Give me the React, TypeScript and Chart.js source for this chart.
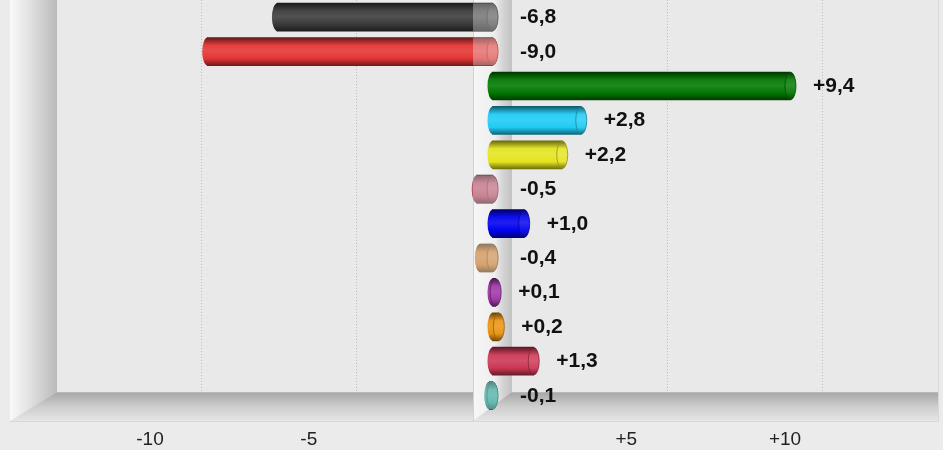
import { useEffect, useRef } from 'react';
import { Chart, registerables } from 'chart.js';

Chart.register(...registerables);

// ---------------- data ----------------
const CATEGORIES = [
  'Partei 1', 'Partei 2', 'Partei 3', 'Partei 4', 'Partei 5', 'Partei 6',
  'Partei 7', 'Partei 8', 'Partei 9', 'Partei 10', 'Partei 11', 'Partei 12',
];
const VALUES = [-6.8, -9.0, 9.4, 2.8, 2.2, -0.5, 1.0, -0.4, 0.1, 0.2, 1.3, -0.1];
const COLORS = [
  '#3a3a3a', '#e33434', '#007800', '#1ecbf4', '#e4e41e', '#b5475f',
  '#0000ee', '#c97825', '#9a2ea4', '#e8900c', '#cc3654', '#0c968a',
];
const TICK_VALUES = [-10, -5, 5, 10];
const TICK_LABELS = ['-10', '-5', '+5', '+10'];

// ---------------- layout / style ----------------
const W = 943;
const H = 450;
const X0 = 492.5; // pixel of zero on the bar plane
const UNIT = 31.7; // px per unit on the bar plane
const XMIN = -15;
const XMAX = 14;
const PLOT_BOTTOM = 412.8;
const BAR_THICK = 28;
const CAP_RX = 5.5;

const BACK_X0 = 511.5;
const BACK_K = 31.05 / 31.7;
const FRONT_X0 = 467.5;
const FRONT_K = 31.75 / 31.7;

const LEFT_FRONT = 10;
const LEFT_BACK = 57;
const FLOOR_BACK = 392;
const FLOOR_FRONT = 421;
const RIGHT_EDGE = 938;
const WALL0_FRONT = 473;
const WALL0_BACK = 512;

function hexToRgb(h: string): number[] {
  const s = h.replace('#', '');
  return [0, 2, 4].map((i) => parseInt(s.substr(i, 2), 16));
}
function mix(a: string, b: string, t: number): string {
  const A = hexToRgb(a);
  const B = hexToRgb(b);
  const c = A.map((v, i) => Math.round(v + (B[i] - v) * t));
  return `rgb(${c[0]},${c[1]},${c[2]})`;
}
function bodyGradient(ctx: CanvasRenderingContext2D, top: number, bottom: number, base: string) {
  const g = ctx.createLinearGradient(0, top, 0, bottom);
  g.addColorStop(0, mix(base, '#000000', 0.55));
  g.addColorStop(0.28, mix(base, '#ffffff', 0.06));
  g.addColorStop(0.48, mix(base, '#ffffff', 0.12));
  g.addColorStop(0.75, base);
  g.addColorStop(1, mix(base, '#000000', 0.5));
  return g;
}
function fmt(v: number): string {
  return (v > 0 ? '+' : '') + v.toFixed(1).replace('.', ',');
}

const scenePlugin = {
  id: 'scene3d',
  beforeDraw(chart: any) {
    const ctx: CanvasRenderingContext2D = chart.ctx;
    const xs = chart.scales.x;
    ctx.save();
    // background
    ctx.fillStyle = '#ebebeb';
    ctx.fillRect(0, 0, W, H);
    // back wall
    ctx.fillStyle = '#e9e9e9';
    ctx.fillRect(LEFT_BACK, 0, RIGHT_EDGE - LEFT_BACK, FLOOR_BACK);
    // left wall
    let g = ctx.createLinearGradient(LEFT_FRONT, 0, LEFT_BACK, 0);
    g.addColorStop(0, '#f9f9f9');
    g.addColorStop(0.35, '#e6e6e6');
    g.addColorStop(1, '#bababa');
    ctx.fillStyle = g;
    ctx.beginPath();
    ctx.moveTo(LEFT_FRONT, 0);
    ctx.lineTo(LEFT_BACK, 0);
    ctx.lineTo(LEFT_BACK, FLOOR_BACK);
    ctx.lineTo(LEFT_FRONT, FLOOR_FRONT);
    ctx.closePath();
    ctx.fill();
    // floor
    g = ctx.createLinearGradient(0, FLOOR_BACK, 0, FLOOR_FRONT);
    g.addColorStop(0, '#a6a6a6');
    g.addColorStop(0.5, '#cdcdcd');
    g.addColorStop(1, '#e6e6e6');
    ctx.fillStyle = g;
    ctx.beginPath();
    ctx.moveTo(LEFT_FRONT, FLOOR_FRONT);
    ctx.lineTo(LEFT_BACK, FLOOR_BACK);
    ctx.lineTo(RIGHT_EDGE, FLOOR_BACK);
    ctx.lineTo(RIGHT_EDGE, FLOOR_FRONT);
    ctx.closePath();
    ctx.fill();
    // edges
    ctx.strokeStyle = '#d8d8d8';
    ctx.lineWidth = 1;
    ctx.beginPath();
    ctx.moveTo(LEFT_FRONT, FLOOR_FRONT + 0.5);
    ctx.lineTo(RIGHT_EDGE + 1, FLOOR_FRONT + 0.5);
    ctx.moveTo(RIGHT_EDGE + 0.5, 0);
    ctx.lineTo(RIGHT_EDGE + 0.5, FLOOR_FRONT);
    ctx.stroke();
    ctx.strokeStyle = '#b8b8b8';
    ctx.beginPath();
    ctx.moveTo(LEFT_BACK, FLOOR_BACK + 0.5);
    ctx.lineTo(RIGHT_EDGE, FLOOR_BACK + 0.5);
    ctx.stroke();
    // grid lines on back wall
    ctx.strokeStyle = '#bdbdbd';
    ctx.setLineDash([1, 2]);
    TICK_VALUES.forEach((v) => {
      const x = Math.round(BACK_X0 + (xs.getPixelForValue(v) - X0) * BACK_K) + 0.5;
      ctx.beginPath();
      ctx.moveTo(x, 0);
      ctx.lineTo(x, FLOOR_BACK);
      ctx.stroke();
    });
    ctx.setLineDash([]);
    // zero wall
    g = ctx.createLinearGradient(WALL0_FRONT, 0, WALL0_BACK, 0);
    g.addColorStop(0, '#f7f7f7');
    g.addColorStop(0.55, '#eeeeee');
    g.addColorStop(0.75, '#d6d6d6');
    g.addColorStop(1, '#c2c2c2');
    ctx.fillStyle = g;
    ctx.beginPath();
    ctx.moveTo(WALL0_FRONT, 0);
    ctx.lineTo(WALL0_BACK, 0);
    ctx.lineTo(WALL0_BACK, FLOOR_BACK);
    ctx.lineTo(WALL0_FRONT, FLOOR_FRONT);
    ctx.closePath();
    ctx.fill();
    ctx.strokeStyle = '#d2d2d2';
    ctx.beginPath();
    ctx.moveTo(WALL0_FRONT + 0.5, 0);
    ctx.lineTo(WALL0_FRONT + 0.5, FLOOR_FRONT);
    ctx.stroke();
    // tick labels at front
    ctx.fillStyle = '#222222';
    ctx.font = '19px "Liberation Sans", Arial, sans-serif';
    ctx.textAlign = 'center';
    ctx.textBaseline = 'alphabetic';
    TICK_VALUES.forEach((v, i) => {
      const x = FRONT_X0 + (xs.getPixelForValue(v) - X0) * FRONT_K;
      ctx.fillText(TICK_LABELS[i], x, 445);
    });
    ctx.restore();
  },
  afterDatasetsDraw(chart: any) {
    const ctx: CanvasRenderingContext2D = chart.ctx;
    const meta = chart.getDatasetMeta(0);
    ctx.save();
    meta.data.forEach((el: any, i: number) => {
      const p = el.getProps(['x', 'y', 'base', 'height'], true);
      const xL = Math.min(p.x, p.base);
      const xR = Math.max(p.x, p.base);
      const hh = p.height / 2;
      const top = p.y - hh;
      const bottom = p.y + hh;
      const base = COLORS[i];
      // left rounded end
      ctx.fillStyle = bodyGradient(ctx, top, bottom, base);
      ctx.beginPath();
      ctx.ellipse(xL + 0.5, p.y, CAP_RX, hh, 0, Math.PI / 2, (3 * Math.PI) / 2);
      ctx.closePath();
      ctx.fill();
      // right cap face
      ctx.fillStyle = bodyGradient(ctx, top, bottom, mix(base, '#ffffff', 0.06).replace(/rgb\((\d+),(\d+),(\d+)\)/, (_m, r, g2, b) =>
        '#' + [r, g2, b].map((n: string) => (+n).toString(16).padStart(2, '0')).join('')));
      ctx.beginPath();
      ctx.ellipse(xR, p.y, CAP_RX, hh, 0, 0, Math.PI * 2);
      ctx.fill();
      ctx.strokeStyle = mix(base, '#000000', 0.35);
      ctx.lineWidth = 0.8;
      ctx.beginPath();
      ctx.ellipse(xR, p.y, CAP_RX, hh - 0.5, 0, 0, Math.PI * 2);
      ctx.stroke();
      // translucent zero wall over the negative bars
      if (VALUES[i] < 0) {
        ctx.save();
        ctx.beginPath();
        ctx.rect(xL, top, xR - xL, p.height);
        ctx.ellipse(xL + 0.5, p.y, CAP_RX, hh, 0, 0, Math.PI * 2);
        ctx.moveTo(xR + CAP_RX, p.y);
        ctx.ellipse(xR, p.y, CAP_RX, hh, 0, 0, Math.PI * 2);
        ctx.clip('nonzero');
        ctx.fillStyle = 'rgba(236,236,236,0.36)';
        ctx.fillRect(WALL0_FRONT, top - 1, xR + CAP_RX + 2 - WALL0_FRONT, p.height + 2);
        ctx.restore();
      }
      // value label
      ctx.fillStyle = '#111111';
      ctx.font = 'bold 21px "Liberation Sans", Arial, sans-serif';
      ctx.textAlign = 'left';
      ctx.textBaseline = 'alphabetic';
      const lx = VALUES[i] < 0 ? WALL0_BACK + 8 : xR + CAP_RX + 17;
      ctx.fillText(fmt(VALUES[i]), lx, p.y + 6);
    });
    ctx.restore();
  },
};

export default function App() {
  const ref = useRef<HTMLCanvasElement | null>(null);
  useEffect(() => {
    if (!ref.current) return;
    const chart = new Chart(ref.current, {
      type: 'bar',
      data: {
        labels: CATEGORIES,
        datasets: [
          {
            data: VALUES,
            barThickness: BAR_THICK,
            borderWidth: 0,
            backgroundColor: (c: any) => {
              const ch = c.chart;
              const ys = ch.scales && ch.scales.y;
              const i = c.dataIndex ?? 0;
              if (!ys || !ch.chartArea) return COLORS[i];
              const y = ys.getPixelForValue(i);
              return bodyGradient(ch.ctx, y - BAR_THICK / 2, y + BAR_THICK / 2, COLORS[i]);
            },
          },
        ],
      },
      options: {
        responsive: false,
        animation: false,
        indexAxis: 'y',
        layout: {
          padding: {
            left: X0 + XMIN * UNIT,
            right: W - (X0 + XMAX * UNIT),
            top: 0,
            bottom: H - PLOT_BOTTOM,
          },
        },
        scales: {
          x: { type: 'linear', min: XMIN, max: XMAX, display: false },
          y: { type: 'category', display: false, offset: true },
        },
        plugins: {
          legend: { display: false },
          tooltip: { enabled: false },
        },
      },
      plugins: [scenePlugin],
    });
    return () => chart.destroy();
  }, []);
  return (
    <div style={{ position: 'absolute', left: 0, top: 0, width: W, height: H }}>
      <canvas ref={ref} width={W} height={H} style={{ display: 'block' }} />
    </div>
  );
}
